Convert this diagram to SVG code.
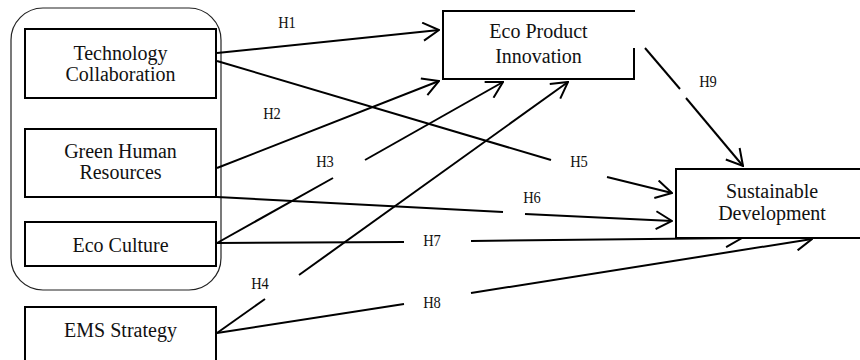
<svg xmlns="http://www.w3.org/2000/svg" width="860" height="360" viewBox="0 0 860 360">
<style>
.box{fill:#fff;stroke:#000;stroke-width:2}
.grp{fill:none;stroke:#222;stroke-width:1.2}
.t{font-family:"Liberation Serif","DejaVu Serif",serif;font-size:20px;fill:#111;text-anchor:middle}
.h{font-family:"Liberation Serif","DejaVu Serif",serif;font-size:14.5px;fill:#111;text-anchor:middle}
.c line{stroke:#000;stroke-width:2}
</style>
<defs>
<marker id="arr" markerUnits="userSpaceOnUse" markerWidth="18" markerHeight="20" viewBox="0 0 18 20" refX="17" refY="10" orient="auto">
<path d="M1,1 L17,10 L1,19" fill="none" stroke="#000" stroke-width="2"/>
</marker>
</defs>
<rect id="group" class="grp" x="11" y="8" width="210" height="282" rx="32"/>
<g id="connectors" class="c">
<line x1="217" y1="53" x2="439" y2="30" marker-end="url(#arr)"/>
<line x1="217" y1="168" x2="439" y2="81" marker-end="url(#arr)"/>
<line x1="217" y1="243" x2="333" y2="178"/>
<line x1="365" y1="160" x2="503" y2="82" marker-end="url(#arr)"/>
<line x1="217" y1="333" x2="265" y2="299"/>
<line x1="299" y1="275" x2="568" y2="82" marker-end="url(#arr)"/>
<line x1="217" y1="61" x2="551" y2="160"/>
<line x1="607" y1="177" x2="672" y2="193" marker-end="url(#arr)"/>
<line x1="217" y1="197" x2="503" y2="212"/>
<line x1="525" y1="214" x2="672" y2="221" marker-end="url(#arr)"/>
<line x1="217" y1="243" x2="404" y2="242"/>
<line x1="471" y1="241" x2="742" y2="238" marker-end="url(#arr)"/>
<line x1="217" y1="333" x2="404" y2="304"/>
<line x1="471" y1="293" x2="812" y2="239" marker-end="url(#arr)"/>
<line x1="645" y1="48" x2="680" y2="89"/>
<line x1="686" y1="98" x2="743" y2="166" marker-end="url(#arr)"/>
</g>
<g id="labels">
<text class="h" transform="translate(287,28) scale(1,1.12)">H1</text>
<text class="h" transform="translate(272,119) scale(1,1.12)">H2</text>
<text class="h" transform="translate(325,167) scale(1,1.12)">H3</text>
<text class="h" transform="translate(260,289) scale(1,1.12)">H4</text>
<text class="h" transform="translate(579,167) scale(1,1.12)">H5</text>
<text class="h" transform="translate(532,203) scale(1,1.12)">H6</text>
<text class="h" transform="translate(432,246) scale(1,1.12)">H7</text>
<text class="h" transform="translate(432,308) scale(1,1.12)">H8</text>
<text class="h" transform="translate(708,87) scale(1,1.12)">H9</text>
</g>
<g id="tech">
<rect class="box" x="25" y="29" width="191" height="69"/>
<text class="t" x="120.5" y="60">Technology</text>
<text class="t" x="120.5" y="81">Collaboration</text>
</g>
<g id="ghr">
<rect class="box" x="25" y="129" width="191" height="68"/>
<text class="t" x="120.5" y="158">Green Human</text>
<text class="t" x="120.5" y="179">Resources</text>
</g>
<g id="culture">
<rect class="box" x="25" y="222" width="191" height="44"/>
<text class="t" x="120.5" y="252">Eco Culture</text>
</g>
<g id="ems">
<rect class="box" x="25" y="307" width="191" height="60"/>
<text class="t" x="120.5" y="337">EMS Strategy</text>
</g>
<g id="epi">
<path class="box" d="M634,48 V79 H443 V11 H635"/>
<text class="t" x="538.5" y="38">Eco Product</text>
<text class="t" x="538.5" y="63">Innovation</text>
</g>
<g id="sd">
<rect class="box" x="676" y="169" width="200" height="69"/>
<text class="t" x="772" y="198">Sustainable</text>
<text class="t" x="772" y="220">Development</text>
</g>
</svg>
